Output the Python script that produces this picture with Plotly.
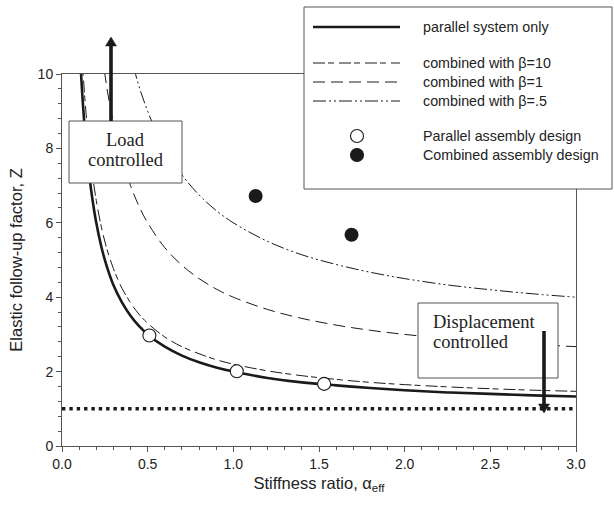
import plotly.graph_objects as go

# ---------------- data ----------------
alpha_par = [0.09, 0.10, 0.11, 0.12, 0.13, 0.14, 0.16, 0.18, 0.20, 0.23, 0.26, 0.30, 0.35, 0.40,
             0.45, 0.50, 0.60, 0.70, 0.80, 0.90, 1.00, 1.20, 1.40, 1.60, 1.80, 2.00, 2.25, 2.50,
             2.75, 3.00]
z_parallel = [12.11, 11.0, 10.09, 9.33, 8.69, 8.14, 7.25, 6.56, 6.0, 5.35, 4.85, 4.33, 3.86, 3.5,
              3.22, 3.0, 2.67, 2.43, 2.25, 2.11, 2.0, 1.83, 1.71, 1.63, 1.56, 1.5, 1.44, 1.4,
              1.36, 1.33]
z_beta10 = [13.32, 12.1, 11.1, 10.27, 9.56, 8.96, 7.98, 7.21, 6.6, 5.88, 5.33, 4.77, 4.24, 3.85,
            3.54, 3.3, 2.93, 2.67, 2.48, 2.32, 2.2, 2.02, 1.89, 1.79, 1.71, 1.65, 1.59, 1.54,
            1.50, 1.47]

alpha_b1 = [0.20, 0.22, 0.24, 0.26, 0.28, 0.30, 0.33, 0.36, 0.40, 0.45, 0.50, 0.60, 0.70, 0.80,
            0.90, 1.00, 1.20, 1.40, 1.60, 1.80, 2.00, 2.25, 2.50, 2.75, 3.00]
z_beta1 = [12.0, 11.09, 10.33, 9.69, 9.14, 8.67, 8.06, 7.56, 7.0, 6.44, 6.0, 5.33, 4.86, 4.5,
           4.22, 4.0, 3.67, 3.43, 3.25, 3.11, 3.0, 2.89, 2.8, 2.73, 2.67]

alpha_b05 = [0.38, 0.40, 0.43, 0.46, 0.50, 0.55, 0.60, 0.70, 0.80, 0.90, 1.00, 1.20, 1.40, 1.60,
             1.80, 2.00, 2.25, 2.50, 2.75, 3.00]
z_beta05 = [10.89, 10.5, 9.98, 9.52, 9.0, 8.45, 8.0, 7.29, 6.75, 6.33, 6.0, 5.5, 5.14, 4.88,
            4.67, 4.5, 4.33, 4.2, 4.09, 4.0]

alpha_limit = [0.0, 3.0]
z_limit = [1.0, 1.0]

alpha_parallel_design = [0.51, 1.02, 1.53]
z_parallel_design = [2.97, 2.01, 1.67]
alpha_combined_design = [1.13, 1.69]
z_combined_design = [6.72, 5.68]

legend_labels = ["parallel system only", "combined with \u03b2=10", "combined with \u03b2=1",
                 "combined with \u03b2=.5", "Parallel assembly design", "Combined assembly design"]

x_ticks = [0.0, 0.5, 1.0, 1.5, 2.0, 2.5, 3.0]
y_ticks = [0, 2, 4, 6, 8, 10]

# ---------------- styles ----------------
INK = "#1a1a1a"
AXC = "#555555"
TXT = "#222222"
SANS = "Liberation Sans, Arial, sans-serif"
SERIF = "Liberation Serif, Times New Roman, serif"
W, H = 614, 505
ML, MR, MT, MB = 62, 38, 74, 59
PW, PH = W - ML - MR, H - MT - MB

DASH_B10 = "12px,3px,6px,5px"
DASH_B1 = "12px,6px"
DASH_B05 = "13px,3px,2px,3px,2px,3px"


def px(xp):
    return (xp - ML) / PW


def py(yp):
    return (H - MB - yp) / PH


fig = go.Figure()

fig.add_trace(go.Scatter(x=alpha_limit, y=z_limit, mode="lines",
                         line=dict(color=INK, width=3.4, dash="3.4px,3.95px")))
fig.add_trace(go.Scatter(x=alpha_b05, y=z_beta05, mode="lines", line_shape="spline",
                         line=dict(color=INK, width=1, dash=DASH_B05)))
fig.add_trace(go.Scatter(x=alpha_b1, y=z_beta1, mode="lines", line_shape="spline",
                         line=dict(color=INK, width=1, dash=DASH_B1)))
fig.add_trace(go.Scatter(x=alpha_par, y=z_beta10, mode="lines", line_shape="spline",
                         line=dict(color=INK, width=1, dash=DASH_B10)))
fig.add_trace(go.Scatter(x=alpha_par, y=z_parallel, mode="lines", line_shape="spline",
                         line=dict(color=INK, width=2.6)))
fig.add_trace(go.Scatter(x=alpha_parallel_design, y=z_parallel_design, mode="markers",
                         marker=dict(size=13, color="white", line=dict(color=INK, width=1.1))))
fig.add_trace(go.Scatter(x=alpha_combined_design, y=z_combined_design, mode="markers",
                         marker=dict(size=14, color=INK, line=dict(color=INK, width=0))))

shapes = []
annotations = []

# legend box
shapes.append(dict(type="rect", xref="paper", yref="paper", x0=px(304), x1=px(612),
                   y0=py(189), y1=py(7), line=dict(color=AXC, width=1), fillcolor="white",
                   layer="above"))
row_y = [27, 63, 82, 101, 136, 155]
line_styles = [(2.6, "solid"), (1, DASH_B10), (1, DASH_B1), (1, DASH_B05)]
for i, (wd, ds) in enumerate(line_styles):
    shapes.append(dict(type="line", xref="paper", yref="paper", x0=px(313), x1=px(400),
                       y0=py(row_y[i]), y1=py(row_y[i]), line=dict(color=INK, width=wd, dash=ds),
                       layer="above"))
for i, fc in [(4, "white"), (5, INK)]:
    shapes.append(dict(type="circle", xref="paper", yref="paper", xsizemode="pixel",
                       ysizemode="pixel", xanchor=px(357), yanchor=py(row_y[i]),
                       x0=-6.5, x1=6.5, y0=-6.5, y1=6.5, fillcolor=fc,
                       line=dict(color=INK, width=1.1), layer="above"))
for i, lab in enumerate(legend_labels):
    annotations.append(dict(xref="paper", yref="paper", x=px(421), y=py(row_y[i]),
                            xanchor="left", yanchor="middle", text=lab, showarrow=False,
                            font=dict(family=SANS, size=14.3, color=TXT)))

# text boxes
for (x0, x1, y0, y1) in [(69, 182, 121, 183), (418, 558, 303, 378)]:
    shapes.append(dict(type="rect", xref="paper", yref="paper", x0=px(x0), x1=px(x1),
                       y0=py(y1), y1=py(y0), line=dict(color=AXC, width=1), fillcolor="white",
                       layer="above"))
box_text = [("Load", 125.5, 140, "center"), ("controlled", 125.5, 160, "center"),
            ("Displacement", 431, 322, "left"), ("controlled", 431, 342, "left")]
for t, xp, yp, anc in box_text:
    annotations.append(dict(xref="paper", yref="paper", x=px(xp), y=py(yp), text=t,
                            showarrow=False, xanchor=anc, yanchor="middle",
                            font=dict(family=SERIF, size=18.5, color=TXT)))

# arrows (shaft + head), drawn above the boxes
for xa, y_start, y_base, y_tip in [(111, 121, 46, 37), (544, 331, 404, 413)]:
    shapes.append(dict(type="line", xref="paper", yref="paper", x0=px(xa), x1=px(xa),
                       y0=py(y_start), y1=py(y_base), line=dict(color=INK, width=3.6),
                       layer="above"))
    shapes.append(dict(type="path", xref="paper", yref="paper",
                       path=f"M {px(xa - 5.5)},{py(y_base)} L {px(xa + 5.5)},{py(y_base)} "
                            f"L {px(xa)},{py(y_tip)} Z",
                       fillcolor=INK, line=dict(color=INK, width=0.5), layer="above"))

fig.update_layout(
    width=W, height=H, margin=dict(l=ML, r=MR, t=MT, b=MB),
    paper_bgcolor="white", plot_bgcolor="white", showlegend=False,
    shapes=shapes, annotations=annotations,
    font=dict(family=SANS, size=14, color=TXT),
)
fig.update_xaxes(range=[0, 3], tickvals=x_ticks, ticktext=[f"{v:.1f}" for v in x_ticks],
                 showgrid=False, zeroline=False, showline=True, linecolor=AXC, linewidth=1,
                 mirror=True, ticks="outside", ticklen=5, tickcolor=AXC, tickwidth=1,
                 tickfont=dict(family=SANS, size=14, color=TXT),
                 minor=dict(dtick=0.1, ticks="outside", ticklen=3, tickcolor=AXC, tickwidth=1),
                 title=dict(text="Stiffness ratio, \u03b1<sub>eff</sub>",
                            font=dict(family=SANS, size=16.5, color=TXT), standoff=6))
fig.update_yaxes(range=[0, 10], tickvals=y_ticks, showgrid=False, zeroline=False, showline=True,
                 linecolor=AXC, linewidth=1, mirror=True, ticks="outside", ticklen=5,
                 tickcolor=AXC, tickwidth=1, tickfont=dict(family=SANS, size=14, color=TXT),
                 minor=dict(dtick=0.4, ticks="outside", ticklen=3, tickcolor=AXC, tickwidth=1),
                 title=dict(text="Elastic follow-up factor, Z",
                            font=dict(family=SANS, size=16.5, color=TXT), standoff=10))

fig.write_html("out.html")
